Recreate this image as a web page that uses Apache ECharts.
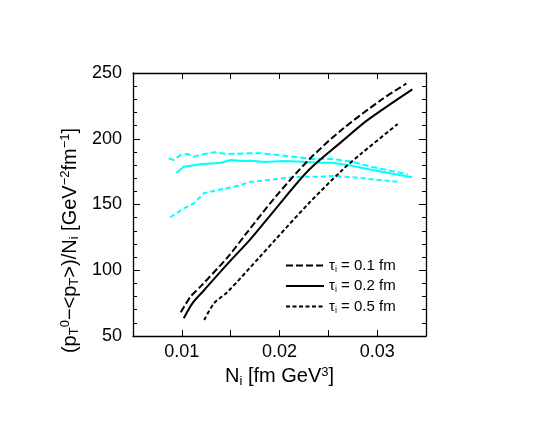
<!DOCTYPE html>
<html>
<head>
<meta charset="utf-8">
<script src="https://cdn.jsdelivr.net/npm/echarts@6/dist/echarts.min.js"></script>
<style>
html,body{margin:0;padding:0;background:#fff;}
#chart{width:557px;height:431px;}
</style>
</head>
<body>
<div id="chart"></div>
<script>
// ---- data ----
const legendNames = ['tau01', 'tau02', 'tau05'];
const legendTau = ['0.1', '0.2', '0.5'];

const blackTau01 = [[0.0099,68],[0.0109,80],[0.0119,87.5],[0.0147,110],[0.0166,128],[0.0195,155],[0.0230,184],[0.0264,207],[0.0305,230],[0.0330,242]];
const blackTau02 = [[0.0102,63.5],[0.0111,75],[0.0123,85],[0.0147,105],[0.0171,124.3],[0.0195,145.8],[0.0230,176.2],[0.0264,198],[0.0288,213],[0.0305,222],[0.0336,237.6]];
const blackTau05 = [[0.0123,62.2],[0.0133,74.9],[0.0147,83.7],[0.0180,110.3],[0.0197,124.3],[0.0230,150.9],[0.0264,176],[0.0285,189.5],[0.0321,211.2]];

const cyanTau01 = [[0.00865,185.1],[0.00917,183.8],[0.00986,187.6],[0.01055,188.4],[0.01124,186.3],[0.01227,188.4],[0.0133,189.7],[0.01469,188.4],[0.0171,188.9],[0.01813,188.9],[0.02054,187.1],[0.0233,184.6],[0.02537,184.6],[0.02744,182.5],[0.0295,178.5],[0.03313,173]];
const cyanTau02 = [[0.00945,174.2],[0.0102,178.7],[0.01193,180.6],[0.0140,181.8],[0.01503,183.8],[0.01607,183.1],[0.0171,183.3],[0.01847,182.3],[0.02054,183.1],[0.02227,182.5],[0.024,181.8],[0.02537,181.8],[0.02744,179.5],[0.0295,176.2],[0.03357,170.7]];
const cyanTau05 = [[0.00883,140.3],[0.0102,147.1],[0.01124,150.9],[0.01227,158.5],[0.01366,161],[0.01537,163.5],[0.0171,167.3],[0.01883,168.6],[0.02054,170.2],[0.02227,171.1],[0.024,171.1],[0.02537,171.7],[0.02744,170.7],[0.03209,167.3]];

const xMin = 0.005, xMax = 0.035, xStep = 0.005;
const yMin = 50, yMax = 250, yStep = 50;

// ---- chart ----
const FONT = '"Liberation Sans", Arial, Helvetica, sans-serif';
const chart = echarts.init(document.getElementById('chart'), null, {renderer: 'canvas'});

const subsup = {
  sub: {fontSize: 13, fontFamily: FONT, color: '#000', verticalAlign: 'bottom', padding: [9, 0, 0, 0]},
  sup: {fontSize: 13, fontFamily: FONT, color: '#000', verticalAlign: 'top', padding: [0, 0, 9, 0]}
};

function xLabel(v) {
  const k = Math.round(v * 1000);
  return (k % 10 === 0) ? (k / 1000).toFixed(2) : '';
}

const frameLine = {show: true, lineStyle: {color: '#000', width: 1.3}};

chart.setOption({
  animation: false,
  backgroundColor: '#fff',
  grid: {left: 133, top: 73, right: 131, bottom: 95, containLabel: false},
  legend: {
    data: legendNames,
    orient: 'vertical',
    left: 280,
    top: 252,
    itemWidth: 38,
    itemHeight: 14,
    itemGap: 3.5,
    itemStyle: {opacity: 0},
    formatter: function (name) {
      const i = legendNames.indexOf(name);
      return '{t|τ}{s|i}{t| = ' + legendTau[i] + ' fm}';
    },
    textStyle: {
      fontFamily: FONT, fontSize: 15, color: '#000', lineHeight: 17,
      rich: {
        t: {fontFamily: FONT, fontSize: 15, color: '#000', lineHeight: 17},
        s: {fontFamily: FONT, fontSize: 9, color: '#000', verticalAlign: 'bottom', padding: [7, 0, 0, 0]}
      }
    }
  },
  xAxis: [{
    type: 'value', min: xMin, max: xMax, interval: xStep,
    name: 'N{sub|i} [fm GeV{sup|3}]',
    nameLocation: 'middle', nameGap: 25,
    nameTextStyle: {fontFamily: FONT, fontSize: 20, color: '#000', rich: subsup},
    axisLine: frameLine,
    axisTick: {show: true, inside: true, length: 6, lineStyle: {color: '#000', width: 1}},
    axisLabel: {formatter: xLabel, fontFamily: FONT, fontSize: 18, color: '#000', margin: 7},
    splitLine: {show: false}
  }, {
    type: 'value', position: 'top', min: xMin, max: xMax, interval: xStep,
    axisLine: frameLine,
    axisTick: {show: true, inside: true, length: 6, lineStyle: {color: '#000', width: 1}},
    axisLabel: {show: false}, splitLine: {show: false}
  }],
  yAxis: [{
    type: 'value', min: yMin, max: yMax, interval: yStep,
    name: '(p{sub|T}{sup|0}−<p{sub|T}>)/N{sub|i} [GeV{sup|−2}fm{sup|−1}]',
    nameLocation: 'middle', nameGap: 46, nameRotate: 90,
    nameTextStyle: {fontFamily: FONT, fontSize: 20, color: '#000', rich: subsup, padding: [0, 72, 0, 0]},
    axisLine: frameLine,
    axisTick: {show: true, inside: true, length: 7, lineStyle: {color: '#000', width: 1}},
    minorTick: {show: true, splitNumber: 5, length: 4, lineStyle: {color: '#000', width: 1}},
    axisLabel: {fontFamily: FONT, fontSize: 18, color: '#000', margin: 11},
    splitLine: {show: false}, minorSplitLine: {show: false}
  }, {
    type: 'value', position: 'right', min: yMin, max: yMax, interval: yStep,
    axisLine: frameLine,
    axisTick: {show: true, inside: true, length: 7, lineStyle: {color: '#000', width: 1}},
    minorTick: {show: true, splitNumber: 5, length: 4, lineStyle: {color: '#000', width: 1}},
    axisLabel: {show: false}, splitLine: {show: false}, minorSplitLine: {show: false}
  }],
  series: [
    {name: 'cyan01', type: 'line', data: cyanTau01, showSymbol: false, symbol: 'none',
     lineStyle: {color: '#00ffff', width: 2, type: [6, 3]}, itemStyle: {color: '#00ffff'}},
    {name: 'cyan02', type: 'line', data: cyanTau02, showSymbol: false, symbol: 'none',
     lineStyle: {color: '#00ffff', width: 2, type: 'solid'}, itemStyle: {color: '#00ffff'}},
    {name: 'cyan05', type: 'line', data: cyanTau05, showSymbol: false, symbol: 'none',
     lineStyle: {color: '#00ffff', width: 2, type: [5, 3]}, itemStyle: {color: '#00ffff'}},
    {name: 'tau01', type: 'line', data: blackTau01, showSymbol: false, symbol: 'none', smooth: 0.3,
     lineStyle: {color: '#000', width: 2, type: [7, 3]}, itemStyle: {color: '#000'}},
    {name: 'tau02', type: 'line', data: blackTau02, showSymbol: false, symbol: 'none', smooth: 0.3,
     lineStyle: {color: '#000', width: 2, type: 'solid'}, itemStyle: {color: '#000'}},
    {name: 'tau05', type: 'line', data: blackTau05, showSymbol: false, symbol: 'none', smooth: 0.3,
     lineStyle: {color: '#000', width: 2, type: [4, 2.5]}, itemStyle: {color: '#000'}}
  ]
});
</script>
</body>
</html>
